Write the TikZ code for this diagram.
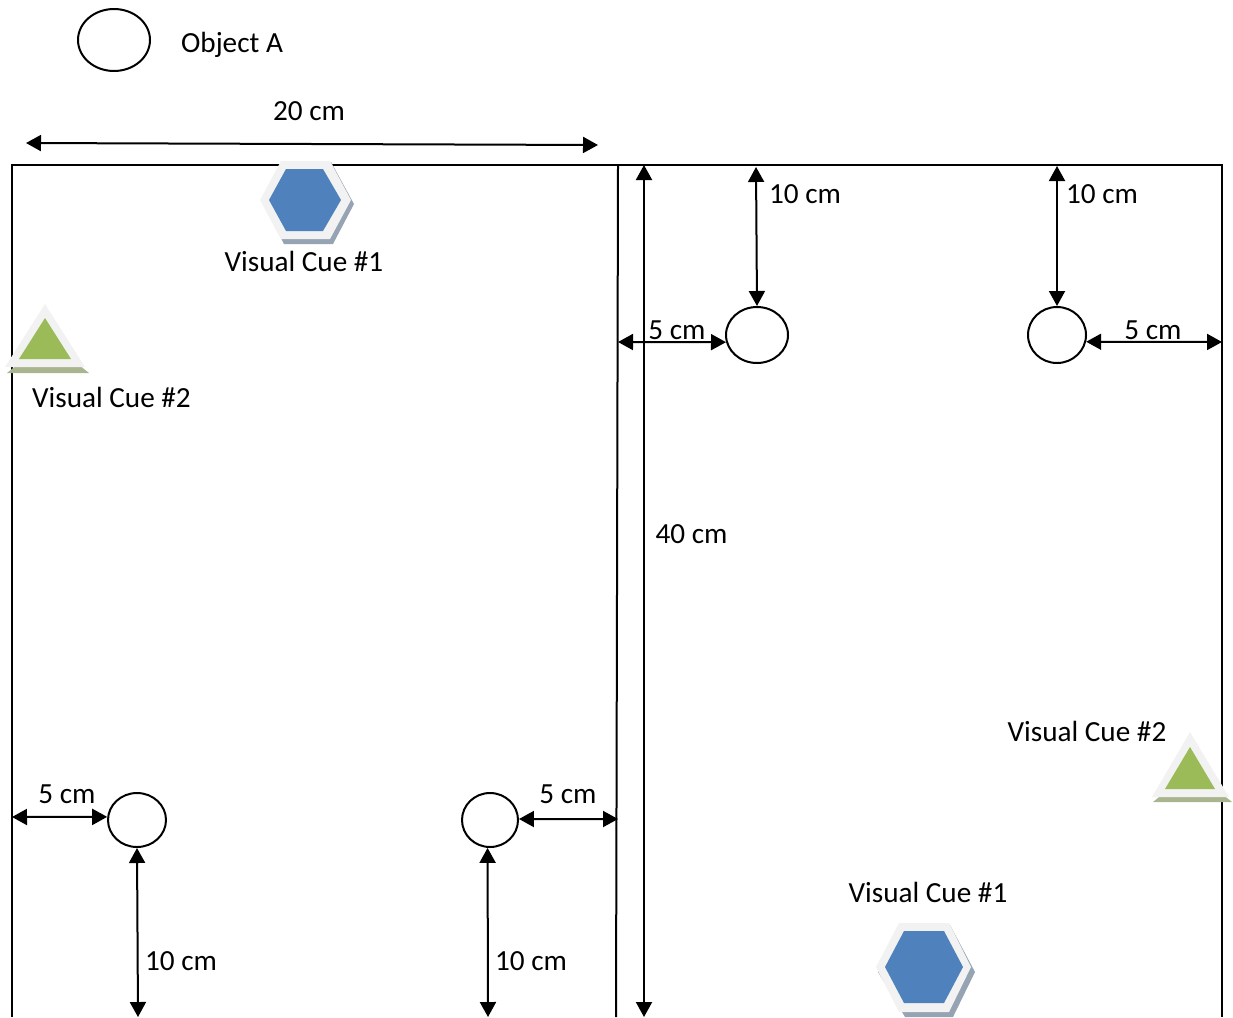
\documentclass[tikz,border=0pt]{standalone}
\usepackage{fontspec}
\setmainfont{Carlito}
\usetikzlibrary{arrows.meta,shapes.geometric}
\definecolor{hexblue}{HTML}{4F81BD}
\definecolor{trigreen}{HTML}{9BBB59}
\definecolor{rimgrey}{HTML}{F2F2F2}
\definecolor{hexshadow}{HTML}{95A3B3}
\definecolor{trishadow}{HTML}{A9B58F}
\tikzset{
  frameline/.style={draw=black,line width=2pt},
  objcircle/.style={ellipse,draw=black,fill=white,line width=2pt,inner sep=0pt,anchor=center},
  dimarrow/.style={draw=black,line width=2pt,{Triangle[length=15pt,width=16pt]}-{Triangle[length=15pt,width=16pt]}},
  lab/.style={inner sep=0pt,font=\fontsize{29.2}{34}\selectfont,text=black,anchor=center}
}
\begin{document}
\begin{tikzpicture}[x=1pt,y=-1pt]
\useasboundingbox (0,0) rectangle (1233,1017);
\clip (0,0) rectangle (1233,1017);
% frame
\draw[frameline] (12,1017) -- (12,165) -- (1222,165) -- (1222,1017);
\draw[frameline] (618,165) -- (616,1017);
% hexagon 1
\fill[hexshadow] (284,165) -- (331,162) -- (354,204) -- (333,244) -- (284,244) -- (263,204) -- cycle;
\fill[rimgrey] (281,161) -- (330,161) -- (351,200) -- (330,239) -- (281,239) -- (260,200) -- cycle;
\fill[hexblue] (286,169) -- (323,169) -- (341,200) -- (323,231) -- (286,231) -- (269,200) -- cycle;
% hexagon 2
\fill[hexshadow] (904,928) -- (950,925) -- (975,972) -- (953,1017) -- (905,1017) -- (878,972) -- cycle;
\fill[rimgrey] (899,923) -- (949,923) -- (971,967) -- (949,1012) -- (899,1012) -- (876,967) -- cycle;
\fill[hexblue] (904,931) -- (944,931) -- (963,967) -- (944,1003) -- (904,1003) -- (885,967) -- cycle;
% triangle 1
\fill[trishadow] (48,340) -- (89,373) -- (7,373) -- cycle;
\fill[rimgrey] (45,304) -- (85,367) -- (5,367) -- cycle;
\fill[trigreen] (45,318) -- (71,359) -- (19,359) -- cycle;
% triangle 2
\fill[trishadow] (1192,770) -- (1232,802) -- (1153,802) -- cycle;
\fill[rimgrey] (1190,732) -- (1229,797) -- (1152,797) -- cycle;
\fill[trigreen] (1190,747) -- (1215,789) -- (1165,789) -- cycle;
% circles
\node[objcircle,minimum width=72pt,minimum height=62pt] (legend) at (114,40) {};
\node[objcircle,minimum width=62pt,minimum height=56pt] (c1) at (757,335) {};
\node[objcircle,minimum width=58pt,minimum height=56pt] (c2) at (1057,335) {};
\node[objcircle,minimum width=58pt,minimum height=54pt] (c3) at (137,820) {};
\node[objcircle,minimum width=56pt,minimum height=54pt] (c4) at (490,820) {};
% free ends
\coordinate (w1) at (26,143);
\coordinate (w2) at (598,145);
\coordinate (h1) at (644,165);
\coordinate (h2) at (644,1017);
\coordinate (t1) at (756,167);
\coordinate (t2) at (1057,166);
\coordinate (l1) at (618,342);
\coordinate (r2) at (1222,342);
\coordinate (l3) at (12,817);
\coordinate (r4) at (618,819);
\coordinate (b3) at (138,1017);
\coordinate (b4) at (488,1017);
% arrows
\draw[dimarrow] (w1) -- (w2);
\draw[dimarrow] (h1) -- (h2);
\draw[dimarrow] (t1) -- (c1.north);
\draw[dimarrow] (t2) -- (c2.north);
\draw[dimarrow] (l1) -- (c1.193);
\draw[dimarrow] (c2.347) -- (r2);
\draw[dimarrow] (l3) -- (c3.174);
\draw[dimarrow] (c4.2) -- (r4);
\draw[dimarrow] (c3.south) -- (b3);
\draw[dimarrow] (c4.265) -- (b4);
% labels
\node[lab] (tobj) at (232,45) {Object A};
\node[lab] (t20) at (309,111) {20 cm};
\node[lab] (v1a) at (304,261.5) {Visual Cue \#1};
\node[lab] (v2a) at (111.5,397.5) {Visual Cue \#2};
\node[lab] (t10a) at (805,194) {10 cm};
\node[lab] (t10b) at (1102,194) {10 cm};
\node[lab] (t5a) at (677,330) {5 cm};
\node[lab] (t5b) at (1153,330) {5 cm};
\node[lab] (t40) at (691.5,534) {40 cm};
\node[lab] (v2b) at (1087,731.5) {Visual Cue \#2};
\node[lab] (v1b) at (928,892.5) {Visual Cue \#1};
\node[lab] (t5c) at (67,794) {5 cm};
\node[lab] (t5d) at (568,794) {5 cm};
\node[lab] (t10c) at (181,961) {10 cm};
\node[lab] (t10d) at (531,961) {10 cm};
\end{tikzpicture}
\end{document}
